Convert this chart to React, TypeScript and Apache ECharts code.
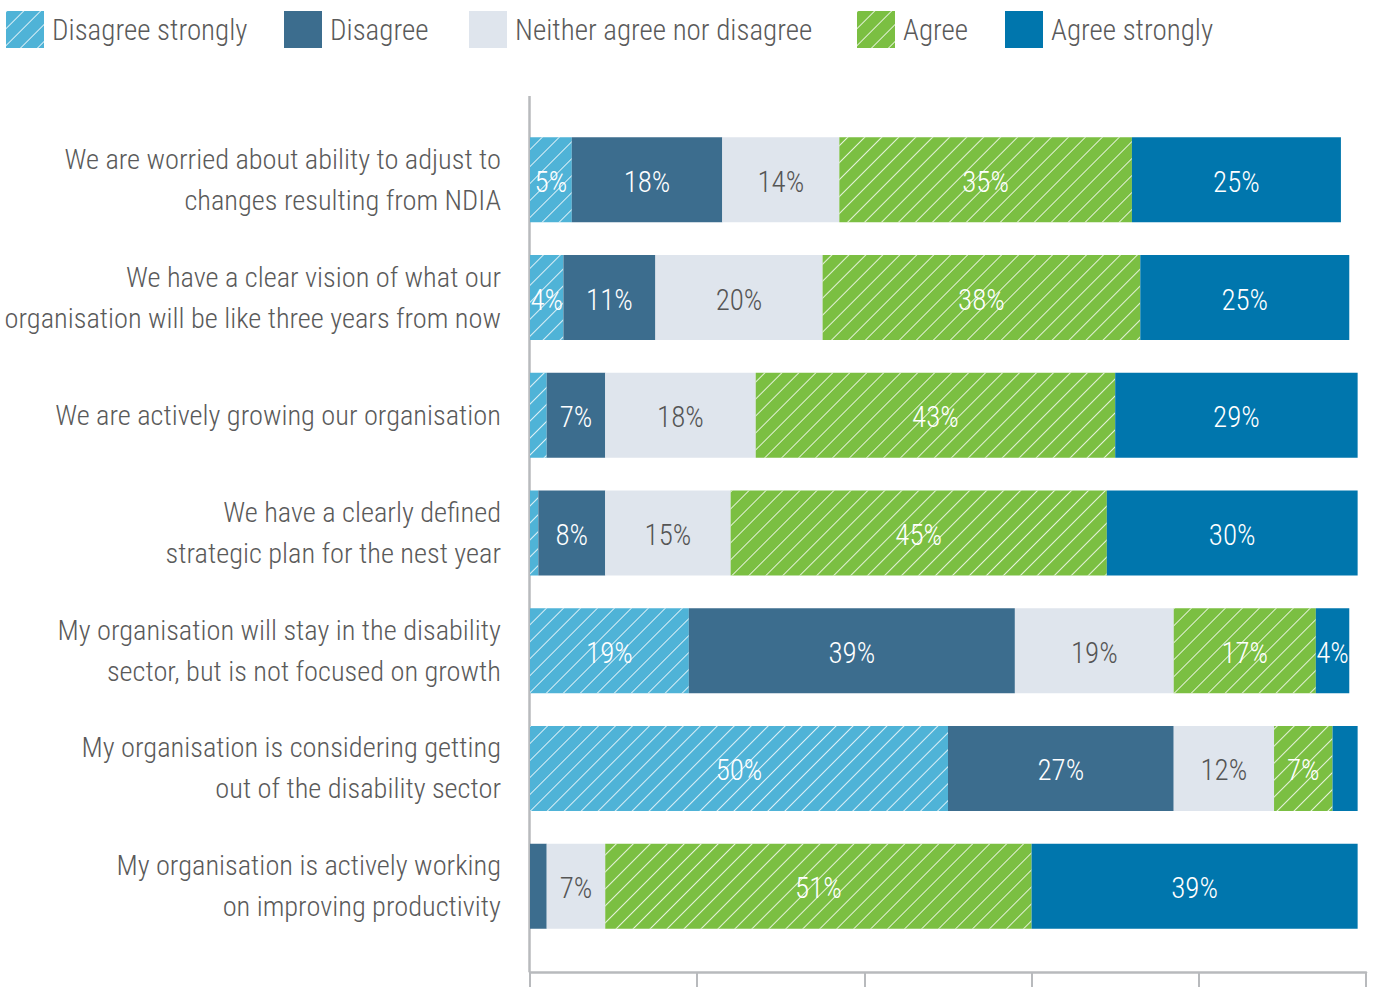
import React, { useEffect, useRef } from "react";
import * as echarts from "echarts";

const categories = [
  "We are worried about ability to adjust to\nchanges resulting from NDIA",
  "We have a clear vision of what our\norganisation will be like three years from now",
  "We are actively growing our organisation",
  "We have a clearly defined\nstrategic plan for the nest year",
  "My organisation will stay in the disability\nsector, but is not focused on growth",
  "My organisation is considering getting\nout of the disability sector",
  "My organisation is actively working\non improving productivity",
];

const seriesNames = [
  "Disagree strongly",
  "Disagree",
  "Neither agree nor disagree",
  "Agree",
  "Agree strongly",
];

const disagreeStrongly = [5, 4, 2, 1, 19, 50, 0];
const disagree = [18, 11, 7, 8, 39, 27, 2];
const neither = [14, 20, 18, 15, 19, 12, 7];
const agree = [35, 38, 43, 45, 17, 7, 51];
const agreeStrongly = [25, 25, 29, 30, 4, 3, 39];

const seriesValues = [disagreeStrongly, disagree, neither, agree, agreeStrongly];

const FONT = "'Roboto Condensed', 'Liberation Sans Narrow', 'DejaVu Sans Condensed', Roboto, sans-serif";
const WEIGHT = 300;
const FS = 29;
const colors = ["#4fb3d7", "#3c6d8e", "#dfe5ed", "#7bbf42", "#0076ad"];
const labelColors = ["#ffffff", "#ffffff", "#555555", "#ffffff", "#ffffff"];
const hatched = [true, false, false, true, false];
const legendLeft = [1, 279, 464, 852, 1000];

export default function App() {
  const ref = useRef<HTMLDivElement>(null);
  useEffect(() => {
    if (!ref.current) return;
    const chart = echarts.init(ref.current, undefined, { renderer: "svg" });
    const hatch = {
      symbol: "rect",
      symbolSize: 1,
      color: "rgba(255,255,255,0.8)",
      dashArrayX: [1, 0],
      dashArrayY: [1, 11],
      rotation: -Math.PI / 4,
    };
    const option: any = {
      animation: false,
      backgroundColor: "#ffffff",
      textStyle: { fontFamily: FONT, fontWeight: WEIGHT },
      legend: seriesNames.map((n, i) => ({
        data: [n],
        left: legendLeft[i],
        top: 6,
        itemWidth: 38,
        itemHeight: 37,
        icon: "rect",
        selectedMode: false,
        textStyle: {
          fontFamily: FONT,
          fontWeight: WEIGHT,
          fontSize: FS,
          color: "#5a5a5a",
          padding: [0, 0, 0, 3],
        },
      })),
      grid: {
        left: 530,
        right: 9,
        top: 121,
        bottom: 42,
        containLabel: false,
        outerBoundsMode: "none",
      },
      xAxis: {
        type: "value",
        min: 0,
        max: 100,
        interval: 20,
        position: "bottom",
        offset: 27,
        axisLine: { show: true, lineStyle: { color: "#b8babd", width: 2.5 } },
        axisTick: { show: true, inside: false, length: 15, lineStyle: { color: "#b8babd", width: 2 } },
        axisLabel: { show: false },
        splitLine: { show: false },
      },
      yAxis: {
        type: "category",
        data: categories,
        inverse: true,
        axisLine: { show: false },
        axisTick: { show: false },
        axisLabel: {
          margin: 29,
          fontFamily: FONT,
          fontWeight: WEIGHT,
          fontSize: 28.4,
          lineHeight: 41,
          color: "#5a5a5a",
          align: "right",
        },
      },
      graphic: [
        {
          type: "line",
          shape: { x1: 529.5, y1: 96, x2: 529.5, y2: 972 },
          style: { stroke: "#b8babd", lineWidth: 2.5 },
          silent: true,
        },
      ],
      series: seriesNames.map((n, i) => ({
        name: n,
        type: "bar",
        stack: "total",
        barWidth: 85,
        data: seriesValues[i],
        itemStyle: {
          color: colors[i],
          ...(hatched[i] ? { decal: hatch } : {}),
        },
        label: {
          show: true,
          position: "inside",
          offset: [0, 2],
          fontFamily: FONT,
          fontWeight: WEIGHT,
          fontSize: FS,
          color: labelColors[i],
          formatter: (p: any) => (p.value >= 4 ? p.value + "%" : ""),
        },
      })),
    };
    chart.setOption(option);
    return () => chart.dispose();
  }, []);
  return (
    <div
      ref={ref}
      style={{ position: "fixed", left: 0, top: 0, width: 1375, height: 987 }}
    />
  );
}
